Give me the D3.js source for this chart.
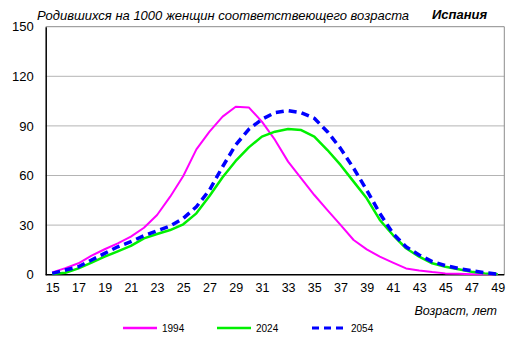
<!DOCTYPE html>
<html><head><meta charset="utf-8">
<script src="https://cdn.jsdelivr.net/npm/d3@7"></script>
<style>body{margin:0;background:#fff}svg{display:block;font-family:"Liberation Sans",Arial,sans-serif}</style>
</head><body><svg id="c" width="519" height="352"></svg>
<script>
const ages = d3.range(15, 50);
const yTicks = [0, 30, 60, 90, 120, 150];
const xTickLabels = [15,17,19,21,23,25,27,29,31,33,35,37,39,41,43,45,47,49];
const seriesNames = ["1994", "2024", "2054"];
const v1994 = [1.4,4.0,6.9,11.5,15.4,19.0,23.0,28.4,36.1,47.2,59.7,75.8,86.5,95.6,101.6,101.2,92.6,81.5,68.4,58.3,48.2,39.1,30.1,21.0,15.3,10.9,7.3,3.8,2.6,1.6,0.8,0.5,0.3,0.2,0.1];
const v2024 = [0.4,1.2,3.8,7.3,10.9,14.1,17.4,22.0,24.6,27.0,30.5,37.1,47.6,58.9,68.8,77.0,83.5,86.5,88.1,87.5,83.5,75.4,66.4,56.3,46.2,33.1,24.0,16.0,10.9,6.9,4.8,3.3,1.8,0.8,0.2];
const v2054 = [0.8,2.8,4.8,8.9,12.9,16.9,20.0,23.6,26.6,29.5,34.1,41.1,51.2,65.3,78.5,87.9,94.0,98.0,99.2,98.0,94.6,86.5,76.4,64.4,51.2,37.1,25.0,16.9,11.9,7.9,5.5,3.8,2.4,1.2,0.4];

const svg = d3.select("#c");
const L = 45.7, R = 504.3, T = 26.7, B = 274.7;
const x = d3.scalePoint().domain(ages).range([L, R]).padding(0.5);
const y = d3.scaleLinear().domain([0, 150]).range([B, T]);

// gridlines
svg.append("g").selectAll("line").data(yTicks.filter(d => d > 0 && d < 150)).join("line")
  .attr("x1", L).attr("x2", R).attr("y1", d => y(d)).attr("y2", d => y(d))
  .attr("stroke", "#b4b4b4").attr("stroke-width", 1);
// frame top/right
svg.append("path").attr("d", `M${L},${T}H${R}V${B}`).attr("fill", "none").attr("stroke", "#8c8c8c").attr("stroke-width", 1);

// y axis
const ya = svg.append("g").attr("transform", `translate(${L},0)`)
  .call(d3.axisLeft(y).tickValues(yTicks).tickSize(0).tickPadding(12));
ya.select(".domain").attr("stroke", "#000").attr("stroke-width", 1.5);
ya.selectAll("text").attr("font-size", 13).attr("fill", "#000").attr("font-family", "Liberation Sans, Arial");

// x axis
const xa = svg.append("g").attr("transform", `translate(0,${B})`)
  .call(d3.axisBottom(x).tickValues(xTickLabels).tickSize(0).tickPadding(8));
xa.select(".domain").attr("d", `M${L},0H${R}`).attr("stroke", "#000").attr("stroke-width", 1.5);
xa.selectAll("text").attr("font-size", 12.5).attr("fill", "#000").attr("font-family", "Liberation Sans, Arial");

const styles = [
  {vals: v1994, color: "#ff00ff", w: 2, dash: null},
  {vals: v2024, color: "#00f000", w: 2.5, dash: null},
  {vals: v2054, color: "#0000ff", w: 3.5, dash: "8,5"}
];
const line = d3.line().x((d, i) => x(ages[i])).y(d => y(d));
styles.forEach(s => {
  svg.append("path").datum(s.vals).attr("d", line)
    .attr("fill", "none").attr("stroke", s.color).attr("stroke-width", s.w)
    .attr("stroke-linejoin", "round")
    .attr("stroke-dasharray", s.dash);
});

// titles
svg.append("text").attr("x", 37).attr("y", 20).attr("font-size", 13).attr("font-style", "italic")
  .text("Родившихся на 1000 женщин соответствеющего возраста");
svg.append("text").attr("x", 432).attr("y", 19).attr("font-size", 13).attr("font-style", "italic").attr("font-weight", "bold")
  .text("Испания");
svg.append("text").attr("x", 497).attr("y", 315).attr("text-anchor", "end").attr("font-size", 12.5).attr("font-style", "italic")
  .text("Возраст, лет");

// legend
const lx = [123, 217, 312];
const lg = svg.append("g");
styles.forEach((s, i) => {
  lg.append("line").attr("x1", lx[i]).attr("x2", lx[i] + 34).attr("y1", 328).attr("y2", 328)
    .attr("stroke", s.color).attr("stroke-width", s.dash ? 3 : 2.5).attr("stroke-dasharray", s.dash ? "7,5" : null);
  lg.append("text").attr("x", lx[i] + 39).attr("y", 332).attr("font-size", 10).text(seriesNames[i]);
});
</script></body></html>
